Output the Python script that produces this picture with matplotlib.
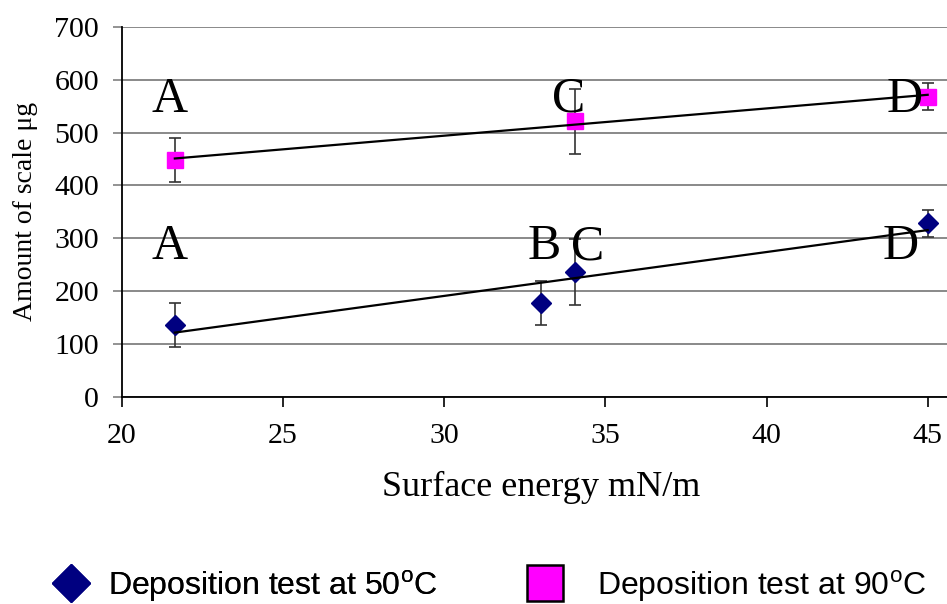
import numpy as np
import matplotlib
matplotlib.use("Agg")
import matplotlib.pyplot as plt
from matplotlib.lines import Line2D

# Data
x50 = [21.64, 33.0, 34.05, 45.0]
y50 = [136, 178, 236, 328]
e50 = [41, 41, 62, 25]
lab50 = ["A", "B", "C", "D"]

x90 = [21.64, 34.05, 45.0]
y90 = [448, 521, 568]
e90 = [42, 62, 26]
lab90 = ["A", "C", "D"]

xticks = [20, 25, 30, 35, 40, 45]
yticks = [0, 100, 200, 300, 400, 500, 600, 700]

plt.rcParams['mathtext.fontset'] = 'custom'
plt.rcParams['mathtext.rm'] = 'Liberation Sans'

fig = plt.figure(figsize=(9.47, 6.04), dpi=100)
ax = fig.add_axes([0.1288, 0.3427, 0.8712, 0.6131])

serif = 'Liberation Serif'

ax.set_xlim(20, 45.6)
ax.set_ylim(0, 700)
ax.set_yticks(yticks)
ax.set_xticks(xticks)
ax.yaxis.grid(True, color='#808080', linewidth=1.3)
ax.set_axisbelow(True)
for s in ['top', 'right']:
    ax.spines[s].set_visible(False)
for s in ['left', 'bottom']:
    ax.spines[s].set_linewidth(1.3)
ax.tick_params(axis='both', labelsize=21.5, width=1.2, direction='out', colors='black')
ax.tick_params(axis='x', length=7, pad=12)
ax.tick_params(axis='y', length=6.5, pad=10, color='#808080')
for t in ax.get_xticklabels() + ax.get_yticklabels():
    t.set_fontfamily(serif)

# error bars + markers
ax.errorbar(x50, y50, yerr=e50, fmt='D', color='#000080', ms=10, mec='#000080',
            ecolor='#333333', elinewidth=1.2, capsize=4, capthick=1.2, zorder=3)
ax.errorbar(x90, y90, yerr=e90, fmt='s', color='#ff00ff', ms=12, mec='#ff00ff',
            ecolor='#333333', elinewidth=1.2, capsize=4, capthick=1.2, zorder=3)

# linear trend lines
for xs, ys in [(x50, y50), (x90, y90)]:
    p = np.polyfit(xs, ys, 1)
    xx = np.array([min(xs), max(xs)])
    ax.plot(xx, np.polyval(p, xx), color='black', linewidth=1.6, zorder=4)

# letter labels
off50 = [-0.15, 0.1, 0.4, -0.85]
for x, l, o in zip(x50, lab50, off50):
    ax.text(x + o, 284, l, fontsize=36, fontfamily=serif, ha='center', va='center', zorder=5)
off90 = [-0.15, -0.2, -0.7]
for x, l, o in zip(x90, lab90, off90):
    ax.text(x + o, 562, l, fontsize=36, fontfamily=serif, ha='center', va='center', zorder=5)

ax.set_xlabel("Surface energy mN/m", fontsize=26, fontfamily=serif)
ax.xaxis.set_label_coords(0.5085, -0.20)
ax.xaxis.label.set_va('top')
ax.set_ylabel("Amount of scale \u03bcg", fontsize=20, fontfamily=serif)
ax.yaxis.set_label_coords(-0.102, 0.5)

lp = {'family': 'Liberation Sans', 'size': 23}
h1 = Line2D([], [], marker='D', color='#000080', linestyle='none', ms=19)
h2 = Line2D([], [], marker='s', color='#ff00ff', mec='black', mew=1.8, linestyle='none', ms=26)
leg1 = fig.legend([h1], ["Deposition test at 50$^{\\rm o}$C"], loc='center left',
                  bbox_to_anchor=(52 / 947, 0.03), frameon=False, prop=lp,
                  borderpad=0, borderaxespad=0, handlelength=1.2, handletextpad=0.56)
fig.add_artist(leg1)
leg2 = fig.legend([h2], ["Deposition test at 90$^{\\rm o}$C"], loc='center left',
                  bbox_to_anchor=(526 / 947, 0.03), frameon=False, prop=lp,
                  borderpad=0, borderaxespad=0, handlelength=1.2, handletextpad=1.03)

fig.savefig("out.png", dpi=100)
